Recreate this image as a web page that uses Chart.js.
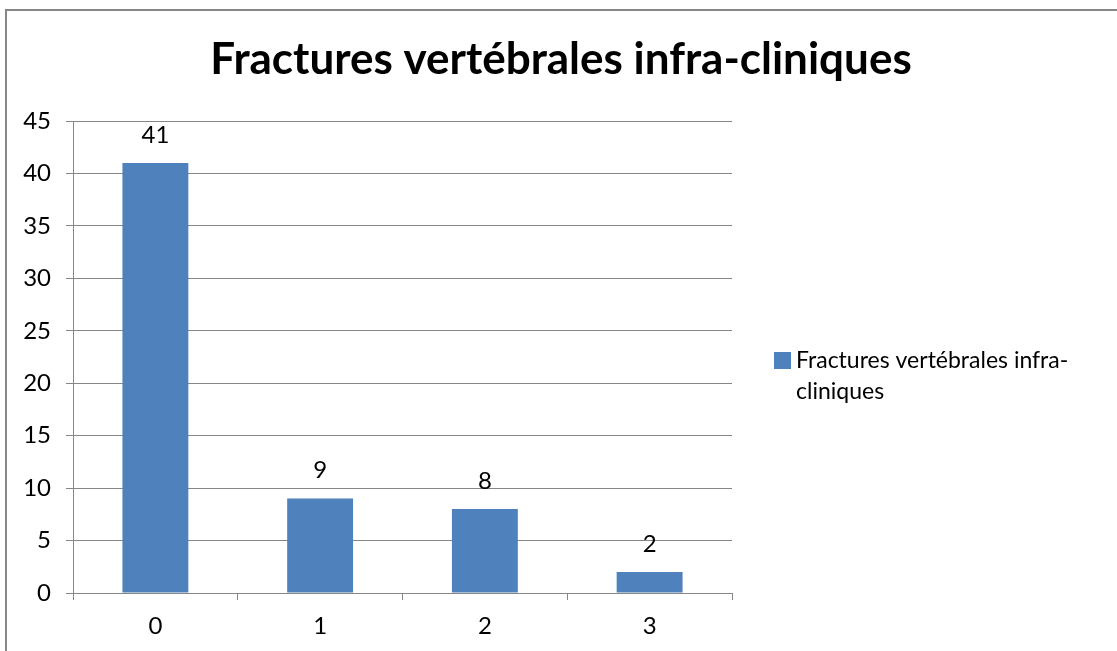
<!DOCTYPE html>
<html>
<head>
<meta charset="utf-8">
<script src="https://cdn.jsdelivr.net/npm/chart.js@4/dist/chart.umd.min.js"></script>
<style>
  html, body { margin: 0; padding: 0; background: #fff; }
  #wrap { width: 1117px; height: 651px; position: relative; }
</style>
</head>
<body>
<div id="wrap"><canvas id="fracturesChart" width="1117" height="651"></canvas></div>
<script>
const categories = ['0', '1', '2', '3'];
const counts = [41, 9, 8, 2];
const yTicks = [0, 5, 10, 15, 20, 25, 30, 35, 40, 45];
const chartTitle = 'Fractures vertébrales infra-cliniques';
const seriesName = 'Fractures vertébrales infra-cliniques';

const FONT = 'Lato, "Open Sans", sans-serif';
const GREY = '#868686';
const BAR = '#4F81BD';

// frame, title, value labels and wrapped legend
const decorations = {
  id: 'decorations',
  beforeDraw(chart) {
    const ctx = chart.ctx;
    ctx.save();
    ctx.strokeStyle = GREY;
    ctx.lineWidth = 2;
    ctx.strokeRect(6, 10, 1200, 700);
    ctx.restore();
  },
  afterDatasetsDraw(chart) {
    const ctx = chart.ctx;
    ctx.save();
    ctx.fillStyle = '#000';
    ctx.textAlign = 'center';
    ctx.textBaseline = 'middle';

    ctx.font = 'bold 44px ' + FONT;
    ctx.fillText(chartTitle, 561, 60);

    ctx.font = '24px ' + FONT;
    const meta = chart.getDatasetMeta(0);
    meta.data.forEach((bar, i) => {
      ctx.fillText(String(counts[i]), bar.x, bar.y - 28);
    });

    // legend
    const ds = chart.data.datasets[0];
    ctx.fillStyle = ds.backgroundColor;
    ctx.fillRect(774, 352, 17, 17);
    ctx.fillStyle = '#000';
    ctx.textAlign = 'left';
    ctx.textBaseline = 'alphabetic';
    ctx.font = '23px ' + FONT;
    const cut = ds.label.indexOf('infra-') + 6;
    ctx.fillText(ds.label.slice(0, cut), 796, 368);
    ctx.fillText(ds.label.slice(cut).trim(), 796, 399);
    ctx.restore();
  }
};

new Chart(document.getElementById('fracturesChart'), {
  type: 'bar',
  data: {
    labels: categories,
    datasets: [{
      label: seriesName,
      data: counts,
      backgroundColor: BAR,
      borderWidth: 0,
      barPercentage: 0.4,
      categoryPercentage: 1.0
    }]
  },
  options: {
    responsive: false,
    animation: false,
    layout: { padding: { top: 121, right: 385, left: 0, bottom: 0 } },
    plugins: {
      legend: { display: false },
      title: { display: false },
      tooltip: { enabled: false }
    },
    scales: {
      x: {
        offset: true,
        grid: { offset: true, drawOnChartArea: false, color: GREY, tickLength: 7 },
        border: { color: GREY, width: 1 },
        ticks: { color: '#000', font: { family: FONT, size: 24 }, padding: 12 },
        afterFit(scale) { scale.height = 58; }
      },
      y: {
        min: 0,
        max: 45,
        afterBuildTicks(scale) { scale.ticks = yTicks.map(v => ({ value: v })); },
        grid: { color: GREY, tickLength: 7 },
        border: { color: GREY, width: 1 },
        ticks: { color: '#000', font: { family: FONT, size: 24 }, padding: 15 },
        afterFit(scale) { scale.width = 73; }
      }
    }
  },
  plugins: [decorations]
});
</script>
</body>
</html>
